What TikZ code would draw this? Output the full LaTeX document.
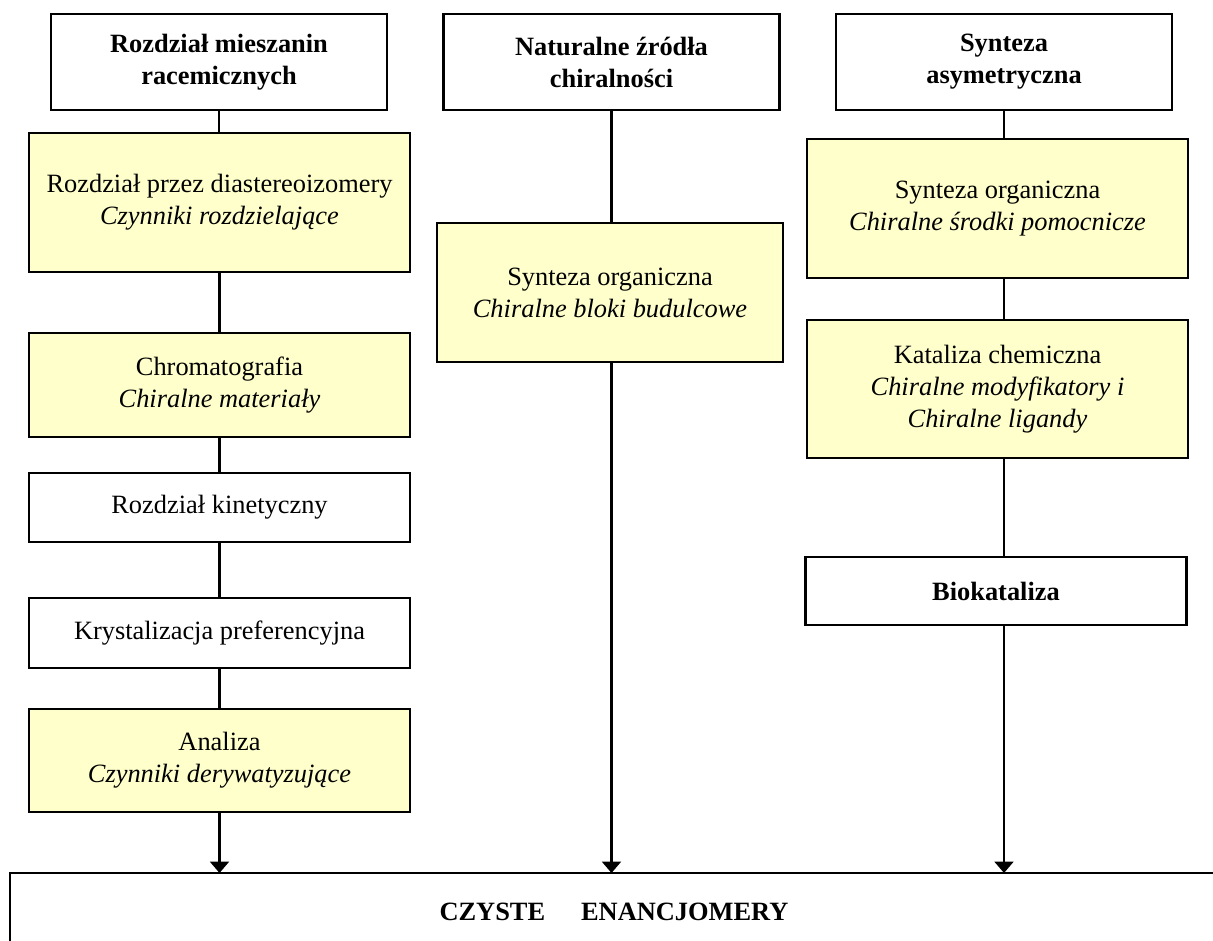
\documentclass[tikz,border=0pt]{standalone}
\usepackage{fontspec}
\setmainfont{Liberation Serif}
\usetikzlibrary{arrows.meta}
\definecolor{paleyellow}{RGB}{255,255,204}

\begin{document}
\begin{tikzpicture}[x=0.75pt,y=-0.75pt,
  every node/.style={font=\fontsize{19.8}{24}\selectfont,align=center,inner sep=0pt,outer sep=0pt},
  head/.style={draw,line width=2pt,minimum width=252pt,minimum height=72pt,font=\fontsize{19.8}{24}\selectfont\bfseries},
  stage/.style={draw,line width=1.6pt,minimum width=285.75pt},
  link/.style={line width=2pt},
  into/.style={link,-{Triangle[width=14pt,length=8.5pt]}}]
  \useasboundingbox (0,0) rectangle (1213,940);

  \node[head] (racem) at (219,62)    {Rozdział mieszanin\\racemicznych};
  \node[head] (natur) at (611.5,62)  {Naturalne źródła\\chiralności};
  \node[head] (asym)  at (1004,62)   {Synteza\\asymetryczna};

  \node[stage,fill=paleyellow,minimum height=104.25pt] (diast) at (219.5,202.5) {Rozdział przez diastereoizomery\\\textit{Czynniki rozdzielające}};
  \node[stage,fill=paleyellow,minimum height=78pt]     (chrom) at (219.5,385)   {Chromatografia\\\textit{Chiralne materiały}};
  \node[stage,minimum height=51.75pt]                  (kinet) at (219.5,507.5) {Rozdział kinetyczny};
  \node[stage,minimum height=52.5pt]                   (kryst) at (219.5,633)   {Krystalizacja preferencyjna};
  \node[stage,fill=paleyellow,minimum height=77.25pt]  (anal)  at (219.5,760.5) {Analiza\\\textit{Czynniki derywatyzujące}};

  \node[stage,fill=paleyellow,minimum width=259.5pt,minimum height=104.25pt] (bloki) at (610,292.5) {Synteza organiczna\\\textit{Chiralne bloki budulcowe}};

  \node[stage,fill=paleyellow,minimum height=104.25pt] (pomoc) at (997.5,208.5) {Synteza organiczna\\\textit{Chiralne środki pomocnicze}};
  \node[stage,fill=paleyellow,minimum height=103.5pt]  (katal) at (997.5,389)   {Kataliza chemiczna\\\textit{Chiralne modyfikatory i}\\\textit{Chiralne ligandy}};
  \node[stage,minimum height=51pt]                     (bio)   at (996,591)     {\textbf{Biokataliza}};

  \node[draw,line width=2pt,minimum width=906pt,minimum height=58.5pt] (czyste) at (614,912) {\textbf{CZYSTE\hspace{22pt} ENANCJOMERY}};

  \draw[link] (racem.south) -- (racem.south |- diast.north);
  \draw[link] (diast.south) -- (diast.south |- chrom.north);
  \draw[link] (chrom.south) -- (chrom.south |- kinet.north);
  \draw[link] (kinet.south) -- (kinet.south |- kryst.north);
  \draw[link] (kryst.south) -- (kryst.south |- anal.north);
  \draw[into] (anal.south)  -- (anal.south |- czyste.north);

  \draw[link] (natur.south) -- (natur.south |- bloki.north);
  \draw[into] (natur.south |- bloki.south) -- (natur.south |- czyste.north);

  \draw[link] (asym.south) -- (asym.south |- pomoc.north);
  \draw[link] (asym.south |- pomoc.south) -- (asym.south |- katal.north);
  \draw[link] (asym.south |- katal.south) -- (asym.south |- bio.north);
  \draw[into] (asym.south |- bio.south) -- (asym.south |- czyste.north);
\end{tikzpicture}
\end{document}
